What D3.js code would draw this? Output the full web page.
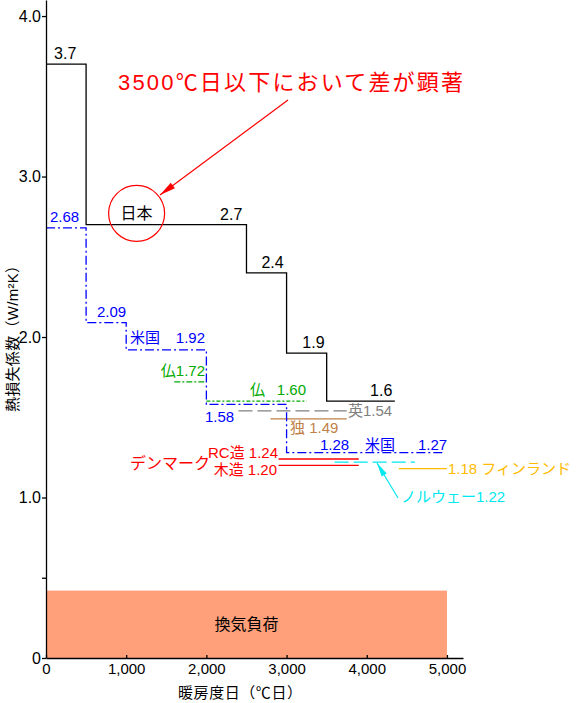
<!DOCTYPE html>
<html>
<head>
<meta charset="utf-8">
<script src="https://cdn.jsdelivr.net/npm/d3@7"></script>
<style>
  body { margin: 0; background: #fff; }
  text { font-family: "Liberation Sans", "Noto Sans CJK JP", sans-serif; }
</style>
</head>
<body>
<div id="chart"></div>
<script>
// 日本の省エネ基準（階段状）
var japanDD = [0, 500, 2500, 3000, 3500, 4350];
var japanU = [3.7, 2.7, 2.4, 1.9, 1.6];

// 米国
var usDD = [0, 500, 1000, 2000, 3000, 4950];
var usU = [2.68, 2.09, 1.92, 1.58, 1.28];

// その他の国（水平区間）
var otherName = ["仏", "仏", "英", "独", "デンマークRC造", "デンマーク木造", "ノルウェー", "フィンランド"];
var otherFrom = [1600, 2000, 2400, 2800, 2900, 2900, 3600, 4400];
var otherTo = [2000, 3250, 3750, 3750, 3900, 3900, 4600, 5000];
var otherU = [1.72, 1.60, 1.54, 1.49, 1.24, 1.20, 1.22, 1.18];

// 換気負荷
var ventTo = 5000;
var ventU = 0.42;

var xTicks = [0, 1000, 2000, 3000, 4000, 5000];
var xTickLabels = ["0", "1,000", "2,000", "3,000", "4,000", "5,000"];
var yTicks = [0, 0.5, 1, 2, 3, 4];
var yTickLabels = ["0", "", "1.0", "2.0", "3.0", "4.0"];

var width = 578, height = 703;

var x = d3.scaleLinear().domain([0, 5200]).range([46, 463]);
var y = d3.scaleLinear().domain([0, 4.1]).range([658, 0]);

var svg = d3.select("#chart").append("svg")
    .attr("width", width)
    .attr("height", height);

svg.append("rect").attr("width", width).attr("height", height).attr("fill", "#fff");

// 換気負荷
svg.append("rect")
    .attr("x", x(0))
    .attr("y", y(ventU))
    .attr("width", x(ventTo) - x(0))
    .attr("height", y(0) - y(ventU))
    .attr("fill", "#ffa07a");

svg.append("text")
    .attr("x", x(ventTo / 2))
    .attr("y", y(ventU / 2))
    .attr("text-anchor", "middle")
    .attr("dominant-baseline", "central")
    .style("font-size", "16px")
    .text("換気負荷");

function steps(dd, u) {
    var pts = [];
    for (var i = 0; i < u.length; i++) {
        pts.push([dd[i], u[i]]);
        pts.push([dd[i + 1], u[i]]);
    }
    return pts;
}

var line = d3.line()
    .x(function(d) { return x(d[0]); })
    .y(function(d) { return y(d[1]); });

// 区間の色・線種
var segColor = ["#00aa00", "#00aa00", "#808080", "#c0804a", "#ff0000", "#ff0000", "#00e8f0", "#ffbb00"];
var segDash = ["6,2,2,2", "4,2,2,2", "14,5", null, null, null, "14,5", null];

svg.selectAll(".seg")
    .data(otherU)
    .enter().append("path")
    .attr("class", "seg")
    .attr("d", function(d, i) { return line([[otherFrom[i], d], [otherTo[i], d]]); })
    .attr("fill", "none")
    .attr("stroke", function(d, i) { return segColor[i]; })
    .attr("stroke-width", 1.3)
    .attr("stroke-dasharray", function(d, i) { return segDash[i]; });

svg.append("path")
    .datum(steps(usDD, usU))
    .attr("d", line)
    .attr("fill", "none")
    .attr("stroke", "#0000ff")
    .attr("stroke-width", 1.3)
    .attr("stroke-dasharray", "9,3,2,3");

svg.append("path")
    .datum(steps(japanDD, japanU))
    .attr("d", line)
    .attr("fill", "none")
    .attr("stroke", "#000")
    .attr("stroke-width", 1.3);

// axes
var yAxis = svg.append("g")
    .attr("transform", "translate(" + x(0) + ",0)")
    .call(d3.axisLeft(y).tickValues(yTicks)
        .tickFormat(function(d, i) { return yTickLabels[i]; })
        .tickSizeInner(4).tickSizeOuter(0).tickPadding(1));
yAxis.selectAll("text").style("font-size", "16px").attr("fill", "#000");
yAxis.selectAll("line, path").attr("stroke", "#000").attr("stroke-width", 1.3);

var xAxis = svg.append("g")
    .attr("transform", "translate(0," + y(0) + ")")
    .call(d3.axisBottom(x).tickValues(xTicks)
        .tickFormat(function(d, i) { return xTickLabels[i]; })
        .tickSizeInner(-3).tickSizeOuter(0).tickPadding(5));
xAxis.selectAll("text").style("font-size", "15px").attr("fill", "#000");
xAxis.selectAll("line, path").attr("stroke", "#000").attr("stroke-width", 1.3);

svg.append("text")
    .attr("x", 178).attr("y", 692)
    .attr("dominant-baseline", "central")
    .attr("textLength", 124)
    .attr("lengthAdjust", "spacing")
    .style("font-size", "15px")
    .text("暖房度日（℃日）");

svg.append("text")
    .attr("transform", "translate(12,412) rotate(-90)")
    .attr("dominant-baseline", "central")
    .attr("textLength", 154)
    .attr("lengthAdjust", "spacing")
    .style("font-size", "15px")
    .text("熱損失係数（W/m²K）");

// 日本の数値ラベル
var japanLabelDD = [240, 2310, 2825, 3335, 4180];
svg.selectAll(".jp")
    .data(japanU)
    .enter().append("text")
    .attr("class", "jp")
    .attr("x", function(d, i) { return x(japanLabelDD[i]); })
    .attr("y", function(d) { return y(d) - 5; })
    .attr("text-anchor", "middle")
    .style("font-size", "16px")
    .text(function(d) { return d3.format(".1f")(d); });

function label(txt, px, py, color, size, anchor) {
    svg.append("text")
        .attr("x", px).attr("y", py)
        .attr("text-anchor", anchor || "start")
        .attr("dominant-baseline", "central")
        .attr("fill", color)
        .style("font-size", size + "px")
        .text(txt);
}

var f2 = d3.format(".2f");
var blue = "#0000ff";
label(f2(usU[0]), 50, y(usU[0]) - 11, blue, 15);
label(f2(usU[1]), 97, y(usU[1]) - 11, blue, 15);
label("米国", 130, y(usU[2]) - 12, blue, 15);
label(f2(usU[2]), 205, y(usU[2]) - 12, blue, 15, "end");
label(f2(usU[3]), 205, y(usU[3]) + 12, blue, 15);
label(f2(usU[4]), 320, y(usU[4]) - 8, blue, 15);
label("米国", 365, y(usU[4]) - 8, blue, 15);
label("1.27", 418, y(usU[4]) - 8, blue, 15);

label("仏" + f2(otherU[0]), 205, y(otherU[0]) - 11, segColor[0], 15, "end");
label("仏", 250, y(otherU[1]) - 12, segColor[1], 15);
label(f2(otherU[1]), 306, y(otherU[1]) - 12, segColor[1], 15, "end");
label("英" + f2(otherU[2]), 348, y(otherU[2]), segColor[2], 15);
label("独 " + f2(otherU[3]), 290, y(otherU[3]) + 9, segColor[3], 15);
label("RC造 " + f2(otherU[4]), 278, y(otherU[4]) - 6, "#ff0000", 15, "end");
label("木造 " + f2(otherU[5]), 277, y(otherU[5]) + 4, "#ff0000", 15, "end");
label("デンマーク", 130, 463, "#ff0000", 16);
label(f2(otherU[7]) + " フィンランド", 448, y(otherU[7]), segColor[7], 15);
label("ノルウェー" + f2(otherU[6]), 401, 496, "#00e8f0", 15);

// 矢印
function arrow(x1, y1, x2, y2, color, len, half) {
    svg.append("line")
        .attr("x1", x1).attr("y1", y1).attr("x2", x2).attr("y2", y2)
        .attr("stroke", color).attr("stroke-width", 1.2);
    var a = Math.atan2(y2 - y1, x2 - x1);
    var bx = x2 - len * Math.cos(a), by = y2 - len * Math.sin(a);
    var px = -Math.sin(a) * half, py = Math.cos(a) * half;
    svg.append("path")
        .attr("d", "M" + x2 + "," + y2 + "L" + (bx + px) + "," + (by + py) + "L" + (bx - px) + "," + (by - py) + "Z")
        .attr("fill", color);
}
arrow(398, 498, 377, 463, "#00e8f0", 14, 3);

// 日本の丸と注記
var cx = x(1130), cy = y(2.77);
svg.append("circle")
    .attr("cx", cx).attr("cy", cy).attr("r", 28)
    .attr("fill", "none").attr("stroke", "#ff0000").attr("stroke-width", 1.2);
svg.append("text")
    .attr("x", cx).attr("y", cy)
    .attr("text-anchor", "middle")
    .attr("dominant-baseline", "central")
    .style("font-size", "16px")
    .text("日本");

arrow(288, 100, 160, 195, "#ff0000", 16, 3.5);

svg.append("text")
    .attr("x", 118).attr("y", 82)
    .attr("dominant-baseline", "central")
    .attr("fill", "#ff0000")
    .attr("textLength", 345)
    .attr("lengthAdjust", "spacing")
    .style("font-size", "22px")
    .text("3500℃日以下において差が顕著");
</script>
</body>
</html>
